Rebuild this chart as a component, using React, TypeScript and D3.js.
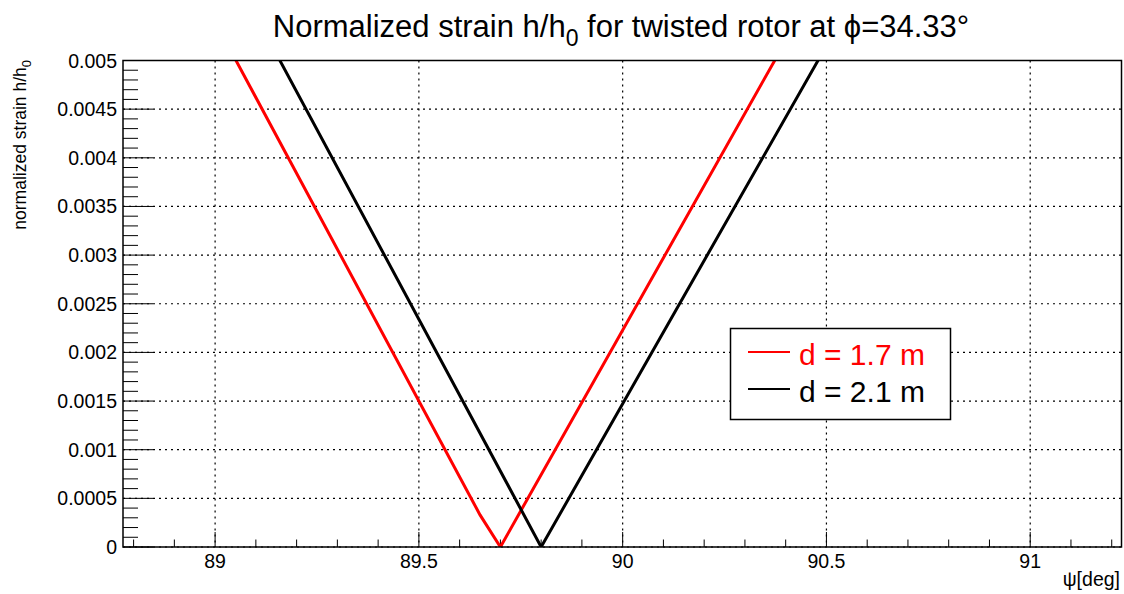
import React from "react";
import * as d3 from "d3";

const W = 1124;
const H = 594;

const title = "Normalized strain h/h";
const titleSub = "0";
const titleRest = " for twisted rotor at \u03D5=34.33\u00B0";
const yTitle = "normalized strain h/h";
const yTitleSub = "0";
const xTitle = "\u03C8[deg]";

const xMajorTicks = [89, 89.5, 90, 90.5, 91];
const xTickLabels = ["89", "89.5", "90", "90.5", "91"];
const yMajorTicks = [0, 0.0005, 0.001, 0.0015, 0.002, 0.0025, 0.003, 0.0035, 0.004, 0.0045, 0.005];
const yTickLabels = ["0", "0.0005", "0.001", "0.0015", "0.002", "0.0025", "0.003", "0.0035", "0.004", "0.0045", "0.005"];

// series: [psi, h]
const red17: [number, number][] = [
  [89.0, 0.0054],
  [89.65, 0.00033],
  [89.7, 0.0],
  [90.4, 0.0052],
];
const black21: [number, number][] = [
  [89.1, 0.00546],
  [89.8, 0.0],
  [90.55, 0.00552],
];

const series = [
  { name: "d = 1.7 m", color: "#ff0000", data: red17 },
  { name: "d = 2.1 m", color: "#000000", data: black21 },
];

const FL = 123;
const FR = 1121.5;
const FT = 60.5;
const FB = 547;

const FONT = "'Liberation Sans', Arial, Helvetica, sans-serif";

export default function App() {
  const x = d3.scaleLinear().domain([88.774, 91.224]).range([FL, FR]);
  const y = d3.scaleLinear().domain([0, 0.005]).range([FB, FT]);

  const xMinor = d3.range(888, 913).map((v) => v / 10);
  const yMinor = d3.range(0, 51).map((v) => v / 10000);

  const line = d3
    .line<[number, number]>()
    .x((d) => x(d[0]))
    .y((d) => y(d[1]));

  const grid = { stroke: "#000", strokeWidth: 1.2, strokeDasharray: "2,4" };

  return (
    <svg
      width={W}
      height={H}
      style={{ position: "absolute", left: 0, top: 0, background: "#fff" }}
      fontFamily={FONT}
    >
      <defs>
        <clipPath id="frame">
          <rect x={FL} y={FT} width={FR - FL} height={FB - FT} />
        </clipPath>
      </defs>
      <rect x={0} y={0} width={W} height={H} fill="#fff" />

      {/* grid */}
      {xMajorTicks.map((t) => (
        <line key={"gx" + t} x1={x(t)} x2={x(t)} y1={FT} y2={FB} {...grid} />
      ))}
      {yMajorTicks.map((t) => (
        <line key={"gy" + t} x1={FL} x2={FR} y1={y(t)} y2={y(t)} {...grid} />
      ))}

      {/* ticks */}
      {xMinor.map((t) => {
        const major = Math.abs(t * 2 - Math.round(t * 2)) < 1e-6;
        return (
          <line
            key={"tx" + t}
            x1={x(t)}
            x2={x(t)}
            y1={FB}
            y2={FB - (major ? 15 : 7.5)}
            stroke="#000"
            strokeWidth={1}
          />
        );
      })}
      {yMinor.map((t) => {
        const major = Math.abs(t * 2000 - Math.round(t * 2000)) < 1e-6;
        return (
          <line
            key={"ty" + t}
            x1={FL}
            x2={FL + (major ? 30 : 15)}
            y1={y(t)}
            y2={y(t)}
            stroke="#000"
            strokeWidth={1}
          />
        );
      })}

      {/* data */}
      <g clipPath="url(#frame)">
        {series.map((s) => (
          <path
            key={s.name}
            d={line(s.data) || ""}
            fill="none"
            stroke={s.color}
            strokeWidth={3}
            strokeLinejoin="miter"
          />
        ))}
      </g>

      {/* frame */}
      <rect x={FL} y={FT} width={FR - FL} height={FB - FT} fill="none" stroke="#000" strokeWidth={1.5} />

      {/* tick labels */}
      {xMajorTicks.map((t, i) => (
        <text key={"lx" + t} x={x(t)} y={568} textAnchor="middle" fontSize={19.5} fill="#000">
          {xTickLabels[i]}
        </text>
      ))}
      {yMajorTicks.map((t, i) => (
        <text
          key={"ly" + t}
          x={117}
          y={y(t)}
          dy="0.36em"
          textAnchor="end"
          fontSize={19.5}
          fill="#000"
        >
          {yTickLabels[i]}
        </text>
      ))}

      {/* axis titles */}
      <text x={1120} y={586} textAnchor="end" fontSize={19.5} fill="#000">
        {xTitle}
      </text>
      <text transform="translate(26,60) rotate(-90)" textAnchor="end" fontSize={17.5} fill="#000">
        {yTitle}
        <tspan fontSize={13} dy={5}>
          {yTitleSub}
        </tspan>
      </text>

      {/* title */}
      <text x={621} y={37} textAnchor="middle" fontSize={31} fill="#000">
        {title}
        <tspan fontSize={23} dy={9}>
          {titleSub}
        </tspan>
        <tspan dy={-9}>{titleRest}</tspan>
      </text>

      {/* legend */}
      <rect x={730.5} y={328.5} width={220} height={91} fill="#fff" stroke="#000" strokeWidth={1.5} />
      {series.map((s, i) => {
        const cy = 352 + i * 37;
        return (
          <g key={"lg" + s.name}>
            <line x1={748} x2={790} y1={cy} y2={cy} stroke={s.color} strokeWidth={2} />
            <text x={799} y={cy + 13} fontSize={30} fill={s.color}>
              {s.name}
            </text>
          </g>
        );
      })}
    </svg>
  );
}
